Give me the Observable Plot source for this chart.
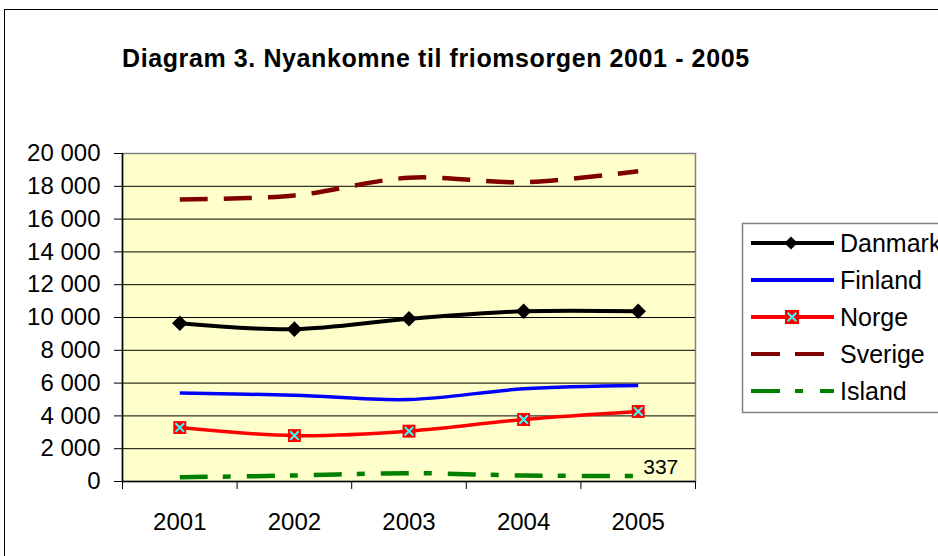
<!DOCTYPE html>
<html><head><meta charset="utf-8">
<script src="https://cdn.jsdelivr.net/npm/d3@7"></script>
<script src="https://cdn.jsdelivr.net/npm/@observablehq/plot@0.6"></script>
<style>
body{margin:0;background:#fff;font-family:"Liberation Sans",Arial,sans-serif;}
#wrap{position:relative;width:938px;height:556px;overflow:hidden;background:#fff;}
#chart,#overlay{position:absolute;left:0;top:0;}
</style></head>
<body><div id="wrap"><div id="chart"></div><div id="overlay"></div></div>
<script>
const title = "Diagram 3. Nyankomne til friomsorgen 2001 - 2005";
const years = [2001, 2002, 2003, 2004, 2005];
const danmark = [9650, 9290, 9920, 10380, 10380];
const finland = [5390, 5260, 5000, 5650, 5850];
const norge = [3290, 2800, 3070, 3780, 4270];
const sverige = [17200, 17440, 18520, 18250, 18920];
const island = [260, 365, 510, 365, 337];
const yTicks = [0, 2000, 4000, 6000, 8000, 10000, 12000, 14000, 16000, 18000, 20000];
const seriesNames = ["Danmark", "Finland", "Norge", "Sverige", "Island"];
const seriesValues = [danmark, finland, norge, sverige, island];
const colors = ["#000000", "#0000FF", "#FF0000", "#800000", "#008000"];
const widths = [4, 3.5, 3.5, 4.5, 4.5];
const dashes = [null, null, null, "28,16", "28,15,8,16"];

const FONT = "Liberation Sans, Arial, Helvetica, sans-serif";
const fmt = d => d3.format(",")(d).replace(/,/g, " ");
const data = seriesNames.flatMap((name, i) => years.map((year, j) => ({name, year, value: seriesValues[i][j]})));
const boundaries = d3.range(years.length + 1).map(i => years[0] - 0.5 + i);
const grid = yTicks.slice(1, -1);

const lineMarks = seriesNames.map((name, i) => Plot.line(data.filter(d => d.name === name), {
  x: "year", y: "value", stroke: colors[i], strokeWidth: widths[i],
  strokeDasharray: dashes[i], curve: "cardinal", strokeLinecap: "butt", strokeLinejoin: "round"
}));

const plot = Plot.plot({
  width: 938, height: 556,
  marginLeft: 122, marginRight: 243, marginTop: 153, marginBottom: 75,
  x: {type: "linear", domain: [years[0] - 0.5, years[years.length - 1] + 0.5], label: null},
  y: {domain: [0, 20000], label: null},
  style: {fontFamily: FONT, fontSize: "24px", background: "transparent", color: "#000"},
  marks: [
    Plot.frame({fill: "#FFFFCC", stroke: "#808080", strokeWidth: 1.5}),
    Plot.gridY(grid, {stroke: "#000", strokeOpacity: 1, strokeWidth: 1}),
    Plot.ruleX([years[0] - 0.5], {stroke: "#000", strokeWidth: 1.5}),
    Plot.ruleY([0], {stroke: "#000", strokeWidth: 1.5}),
    Plot.axisY(yTicks, {tickSize: 8, tickPadding: 14, tickFormat: fmt, fontSize: 24, label: null}),
    Plot.axisX(boundaries, {tickSize: 8, tickFormat: () => "", label: null}),
    Plot.axisX(years, {tickSize: 0, tickPadding: 31, tickFormat: d => String(d), fontSize: 24, label: null}),
    ...lineMarks,
    Plot.dot(data.filter(d => d.name === "Danmark"), {x: "year", y: "value", symbol: "diamond2", r: 7, fill: "#000", stroke: "none"}),
    Plot.dot(data.filter(d => d.name === "Norge"), {x: "year", y: "value", symbol: "square", r: 7.3, fill: "#FF0000", stroke: "none"}),
    Plot.dot(data.filter(d => d.name === "Norge"), {x: "year", y: "value", symbol: "times", r: 4, stroke: "#33FFFF", strokeWidth: 2}),
    Plot.text(data.filter(d => d.name === "Island" && d.year === years[years.length - 1]), {
      x: "year", y: "value", text: d => String(d.value), dx: 5, dy: -9, textAnchor: "start", fontSize: 21, fill: "#000"
    })
  ]
});
document.getElementById("chart").appendChild(plot);

// Overlay: border, title and legend
const svg = d3.select("#overlay").append("svg").attr("width", 938).attr("height", 556)
  .style("font-family", FONT);
svg.append("rect").attr("x", 4.5).attr("y", 9.5).attr("width", 2000).attr("height", 2000)
  .attr("fill", "none").attr("stroke", "#000").attr("stroke-width", 1);
svg.append("text").attr("x", 122).attr("y", 67).attr("font-weight", "bold").attr("font-size", 25)
  .style("letter-spacing", "0.6px").attr("fill", "#000").text(title);

const lg = svg.append("g");
lg.append("rect").attr("x", 742.5).attr("y", 223.5).attr("width", 400).attr("height", 189)
  .attr("fill", "#fff").attr("stroke", "#808080").attr("stroke-width", 1.5);
const rowY = [243, 280, 317, 354, 391];
seriesNames.forEach((name, i) => {
  const y = rowY[i];
  lg.append("line").attr("x1", 751).attr("x2", 834).attr("y1", y).attr("y2", y)
    .attr("stroke", colors[i]).attr("stroke-width", 4)
    .attr("stroke-dasharray", dashes[i] ? (i === 3 ? "29,15" : "29,15,8,17") : null);
  if (name === "Danmark") {
    lg.append("path").attr("transform", `translate(791,${y})`)
      .attr("d", d3.symbol(d3.symbolDiamond2, 110)()).attr("fill", "#000");
  }
  if (name === "Norge") {
    lg.append("path").attr("transform", `translate(792,${y})`)
      .attr("d", d3.symbol(d3.symbolSquare, 200)()).attr("fill", "#FF0000");
    lg.append("path").attr("transform", `translate(792,${y})`)
      .attr("d", d3.symbol(d3.symbolTimes, 50)()).attr("fill", "none").attr("stroke", "#33FFFF").attr("stroke-width", 2);
  }
  lg.append("text").attr("x", 840).attr("y", y).attr("dy", "0.35em").attr("font-size", 25)
    .attr("fill", "#000").text(name);
});
</script>
</body></html>
